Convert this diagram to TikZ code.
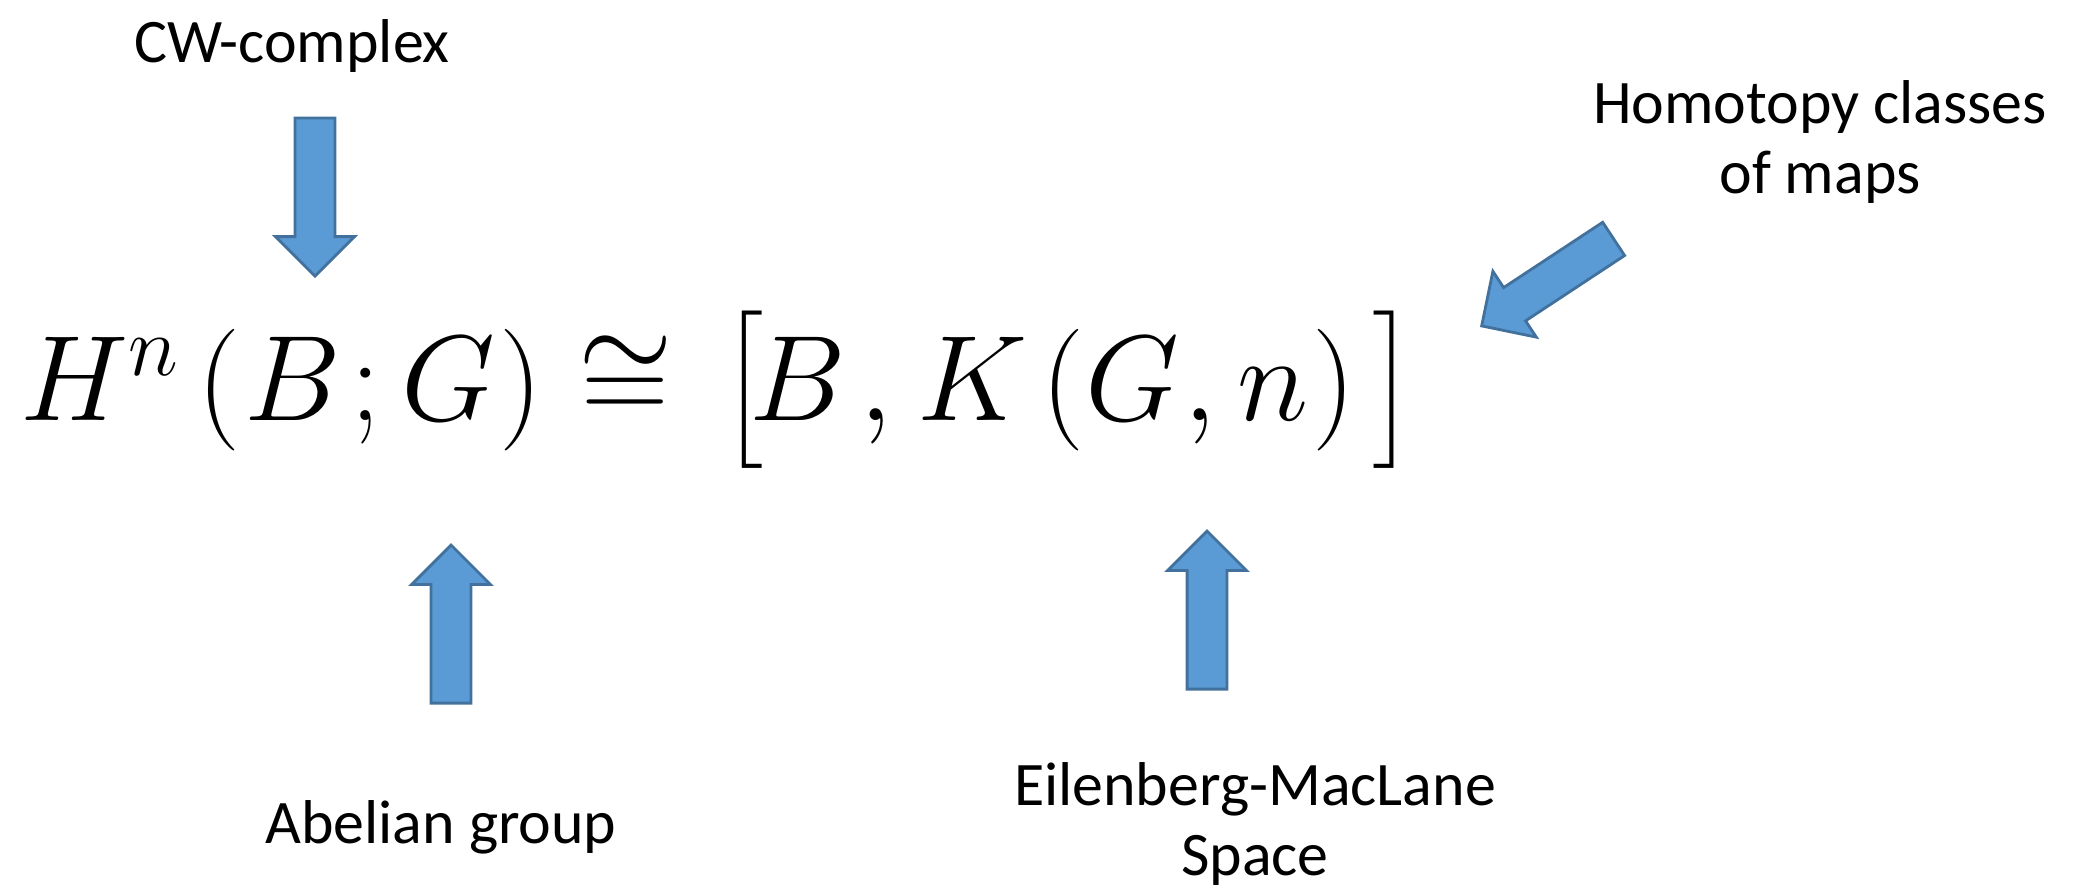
\RequirePackage{fix-cm}
\documentclass[tikz,border=0pt]{standalone}
\usepackage{amsmath}
\usepackage{fontspec}
\setmainfont{Carlito}
\usetikzlibrary{shapes.arrows}

\definecolor{blockfill}{RGB}{91,155,213}
\definecolor{blockline}{RGB}{65,113,156}

\tikzset{every picture/.style={line width=0.75pt}}
\tikzset{
    blockarrow/.style={single arrow, draw=blockline, fill=blockfill, line width=0.8pt,
        inner xsep=0pt, inner ysep=0.185cm, minimum width=0pt, minimum height=1.58cm,
        single arrow head extend=0.195cm, anchor=tip},
    labeltext/.style={font=\fontsize{17.6}{19.9}\selectfont, align=center, inner sep=0pt}
}

\begin{document}
\begin{tikzpicture}[x=0.01cm, y=-0.01cm]
    \useasboundingbox (0,0) rectangle (2082,893);
    \node[anchor=base west, inner sep=0pt] (formula) at (19,420)
        {\fontsize{34.6}{40}\selectfont $H^{n}\kern0.18cm(\kern0.03cm B\kern0.10cm;G\kern0.04cm)\kern0.02cm
        \cong\kern0.16cm\bigl[\kern-0.15cm B\kern0.14cm,\kern0.05cm K\kern0.13cm(\kern0.01cm G\kern0.04cm,\kern0.01cm n\kern0.04cm)\kern0.17cm\bigr]$};
    \node[labeltext, anchor=base] (cwlabel) at (292,62) {CW-complex};
    \node[labeltext, anchor=base] (ablabel) at (441,843) {Abelian group};
    \node[labeltext, anchor=base] (emlabel) at (1255,875) {Eilenberg-MacLane\\Space};
    \node[labeltext, anchor=base] (htlabel) at (1820,193) {Homotopy classes\\of maps};
    \node[blockarrow, rotate=-90] (cwarrow) at (315,278) {};
    \node[blockarrow, rotate=90] (abarrow) at (451,543) {};
    \node[blockarrow, rotate=90] (emarrow) at (1207,529) {};
    \node[blockarrow, rotate=213.4] (htarrow) at (1480,327) {};
\end{tikzpicture}
\end{document}
